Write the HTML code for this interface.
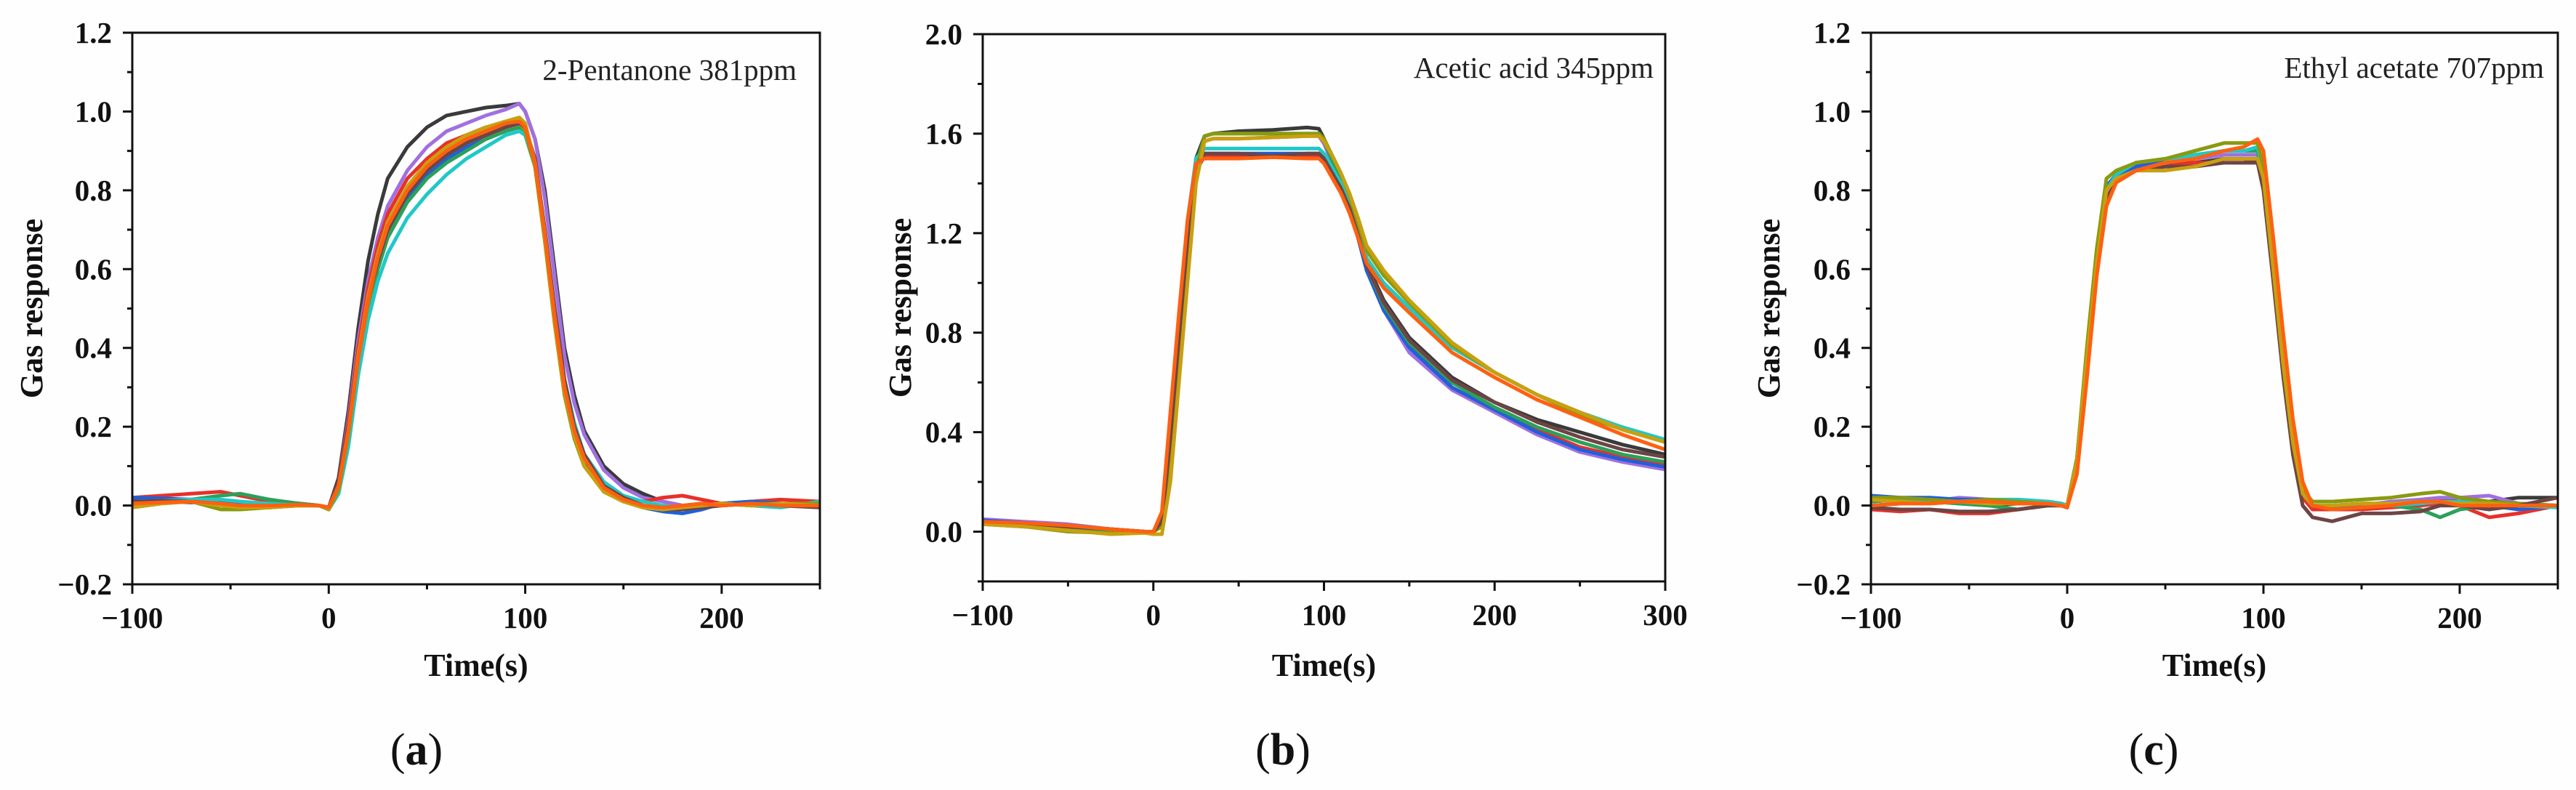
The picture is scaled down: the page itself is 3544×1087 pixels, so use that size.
<!DOCTYPE html>
<html><head><meta charset="utf-8"><style>
html,body{margin:0;padding:0;background:#fff;}
svg{display:block;}
text{font-family:"Liberation Serif",serif;}
</style></head><body>
<svg id="fig" width="3544" height="1087" viewBox="0 0 3544 1087" xmlns="http://www.w3.org/2000/svg">
<rect x="0" y="0" width="3544" height="1087" fill="#fefefe"/>
</svg>
<script>
const colors = ["#3a3a3a","#a070e0","#e8302a","#2060d8","#2ca05a","#20c8c8","#8a9a10","#6e4444","#c8a010","#ff6010"];
const seriesNames = ["s1","s2","s3","s4","s5","s6","s7","s8","s9","s10"];

// Panel (a) 2-Pentanone
const timeA = [-100,-85,-70,-55,-45,-30,-15,-5,0,5,10,15,20,25,30,40,50,60,70,80,90,97,100,105,110,115,120,125,130,140,150,160,170,180,190,200,215,230,250];
const a_s1 = [0.015,0.01,0.008,0.01,0.005,0,0.005,0,-0.005,0.07,0.24,0.45,0.62,0.74,0.83,0.91,0.96,0.99,1.0,1.01,1.015,1.02,1.0,0.93,0.8,0.6,0.4,0.28,0.19,0.1,0.055,0.03,0.01,0.0,0.0,0.005,0.0,0.005,0.0];
const a_s2 = [0.01,0.012,0.01,0.005,0.003,0.0,0.003,0,-0.005,0.06,0.22,0.42,0.57,0.68,0.76,0.85,0.91,0.95,0.97,0.99,1.005,1.02,1.0,0.93,0.78,0.58,0.38,0.26,0.18,0.09,0.045,0.02,0.01,0.0,0.0,0.005,0.005,0.0,0.005];
const a_s3 = [0.02,0.025,0.03,0.035,0.025,0.01,0.005,0,-0.005,0.06,0.21,0.4,0.55,0.66,0.74,0.83,0.88,0.92,0.94,0.96,0.97,0.97,0.95,0.86,0.68,0.48,0.3,0.19,0.12,0.05,0.02,0.01,0.02,0.025,0.015,0.005,0.01,0.015,0.01];
const a_s4 = [0.02,0.018,0.015,0.01,0.005,0.003,0.0,0.0,-0.005,0.05,0.2,0.38,0.51,0.61,0.69,0.78,0.84,0.88,0.91,0.93,0.95,0.96,0.95,0.87,0.69,0.49,0.3,0.19,0.12,0.045,0.015,-0.005,-0.015,-0.02,-0.01,0.005,0.01,0.005,0.0];
const a_s5 = [0.005,0.01,0.015,0.025,0.03,0.015,0.005,0,-0.008,0.04,0.18,0.36,0.5,0.6,0.68,0.77,0.83,0.87,0.9,0.93,0.95,0.96,0.94,0.86,0.68,0.47,0.29,0.18,0.11,0.04,0.01,0.0,-0.01,0.0,0.005,0.0,0.005,0.005,0.0];
const a_s6 = [0.01,0.012,0.015,0.015,0.01,0.005,0.0,0,-0.01,0.03,0.15,0.33,0.47,0.57,0.64,0.73,0.79,0.84,0.88,0.91,0.94,0.95,0.94,0.87,0.7,0.5,0.32,0.21,0.13,0.06,0.025,0.01,0.0,-0.005,0.0,0.005,0.0,-0.005,0.01];
const a_s7 = [0.0,0.01,0.01,-0.01,-0.01,-0.005,0.0,0,-0.01,0.04,0.18,0.37,0.51,0.62,0.7,0.79,0.85,0.89,0.92,0.94,0.96,0.97,0.95,0.86,0.67,0.46,0.28,0.17,0.1,0.035,0.01,-0.005,-0.01,-0.005,0.0,0.005,0.0,0.005,0.005];
const a_s8 = [0.01,0.012,0.01,0.005,0.0,-0.005,0.002,0.0,-0.005,0.06,0.2,0.38,0.52,0.62,0.7,0.79,0.85,0.89,0.92,0.94,0.96,0.97,0.96,0.88,0.7,0.5,0.32,0.2,0.13,0.05,0.02,0.0,-0.01,-0.01,-0.005,0.0,0.005,0.0,-0.005];
const a_s9 = [-0.005,0.005,0.01,0.0,-0.005,-0.005,0.0,0.0,-0.008,0.05,0.19,0.38,0.53,0.64,0.72,0.81,0.87,0.91,0.94,0.96,0.975,0.985,0.97,0.87,0.68,0.47,0.29,0.18,0.1,0.035,0.01,-0.005,-0.01,-0.005,0.0,0.005,0.0,0.005,0.0];
const a_s10 = [0.005,0.008,0.01,0.005,0.0,0.0,0.002,0.0,-0.005,0.05,0.19,0.37,0.52,0.63,0.71,0.8,0.86,0.9,0.93,0.95,0.97,0.975,0.96,0.87,0.69,0.48,0.3,0.19,0.12,0.045,0.015,0.0,-0.005,0.0,0.005,0.0,0.005,0.0,0.0];

// Panel (b) Acetic acid
const timeB = [-100,-75,-50,-25,-5,0,5,10,15,20,25,30,35,50,70,90,97,100,105,110,115,120,125,135,150,175,200,225,250,275,300];
const b_s1 = [0.04,0.03,0.02,0.01,0.0,0.0,0.05,0.4,0.8,1.2,1.5,1.59,1.6,1.61,1.615,1.625,1.62,1.58,1.5,1.42,1.32,1.2,1.08,0.93,0.78,0.62,0.52,0.45,0.4,0.35,0.31];
const b_s2 = [0.05,0.04,0.03,0.01,0.0,0.0,0.04,0.38,0.78,1.18,1.48,1.57,1.58,1.58,1.585,1.59,1.59,1.56,1.48,1.4,1.3,1.18,1.05,0.89,0.72,0.57,0.48,0.39,0.32,0.28,0.25];
const b_s3 = [0.04,0.035,0.02,0.01,0.0,0.0,0.04,0.38,0.78,1.15,1.45,1.51,1.51,1.51,1.515,1.51,1.51,1.49,1.44,1.38,1.3,1.18,1.06,0.9,0.75,0.58,0.49,0.41,0.34,0.3,0.27];
const b_s4 = [0.045,0.035,0.025,0.01,0.0,0.0,0.04,0.36,0.76,1.14,1.44,1.52,1.52,1.52,1.52,1.52,1.52,1.5,1.44,1.38,1.3,1.18,1.05,0.89,0.74,0.58,0.49,0.4,0.33,0.29,0.26];
const b_s5 = [0.03,0.025,0.015,0.005,0.0,0.0,0.03,0.34,0.74,1.15,1.47,1.59,1.6,1.6,1.6,1.6,1.6,1.57,1.49,1.41,1.31,1.19,1.07,0.91,0.76,0.6,0.5,0.42,0.36,0.31,0.28];
const b_s6 = [0.035,0.03,0.02,0.01,0.0,0.0,0.05,0.42,0.84,1.25,1.5,1.54,1.54,1.54,1.54,1.54,1.54,1.52,1.46,1.4,1.32,1.22,1.1,1.0,0.9,0.74,0.64,0.55,0.48,0.42,0.37];
const b_s7 = [0.03,0.02,0.0,-0.005,0.0,0.0,0.02,0.3,0.7,1.1,1.45,1.59,1.6,1.6,1.6,1.6,1.6,1.58,1.51,1.44,1.35,1.24,1.13,1.03,0.92,0.75,0.64,0.55,0.47,0.41,0.36];
const b_s8 = [0.04,0.03,0.02,0.01,0.0,0.0,0.04,0.38,0.78,1.17,1.47,1.52,1.52,1.52,1.51,1.52,1.52,1.5,1.44,1.38,1.3,1.19,1.07,0.92,0.77,0.61,0.52,0.44,0.38,0.33,0.3];
const b_s9 = [0.03,0.02,0.005,-0.01,-0.005,-0.01,-0.01,0.2,0.6,1.0,1.4,1.57,1.58,1.58,1.585,1.59,1.59,1.57,1.51,1.44,1.36,1.26,1.15,1.05,0.93,0.76,0.64,0.55,0.48,0.41,0.36];
const b_s10 = [0.04,0.035,0.025,0.01,0.0,0.0,0.08,0.48,0.88,1.25,1.48,1.5,1.5,1.5,1.505,1.5,1.5,1.48,1.42,1.36,1.28,1.18,1.08,0.98,0.88,0.72,0.62,0.53,0.46,0.39,0.33];

// Panel (c) Ethyl acetate
const timeC = [-100,-85,-70,-55,-40,-25,-10,-3,0,5,10,15,20,25,35,50,65,80,90,97,100,105,110,115,120,125,135,150,165,180,190,200,215,230,250];
const c_s1 = [0.0,0.005,0.01,0.005,0.0,0.005,0.01,0.005,0.0,0.12,0.38,0.62,0.8,0.83,0.86,0.87,0.87,0.88,0.88,0.87,0.82,0.6,0.36,0.16,0.03,0.0,0.0,0.005,0.005,0.01,0.015,0.01,0.01,0.02,0.02];
const c_s2 = [0.01,0.015,0.01,0.02,0.015,0.01,0.005,0.0,0.0,0.12,0.38,0.62,0.8,0.83,0.86,0.87,0.88,0.89,0.89,0.89,0.84,0.61,0.37,0.16,0.03,0.0,-0.005,0.0,0.01,0.015,0.02,0.02,0.025,0.005,0.0];
const c_s3 = [-0.01,-0.015,-0.01,-0.02,-0.02,-0.01,0.0,0.0,-0.005,0.1,0.36,0.6,0.78,0.82,0.85,0.86,0.87,0.87,0.87,0.87,0.82,0.58,0.35,0.15,0.02,-0.01,-0.01,-0.01,-0.005,0.0,0.005,0.0,-0.03,-0.02,0.0];
const c_s4 = [0.025,0.02,0.02,0.015,0.015,0.01,0.005,0.0,0.0,0.12,0.38,0.63,0.81,0.84,0.86,0.88,0.89,0.9,0.9,0.9,0.84,0.61,0.37,0.16,0.03,0.0,-0.005,0.0,0.005,0.01,0.01,0.005,0.0,-0.01,0.0];
const c_s5 = [0.01,0.015,0.01,0.005,0.0,-0.01,0.0,0.0,-0.005,0.11,0.37,0.61,0.8,0.84,0.87,0.88,0.89,0.9,0.9,0.9,0.84,0.6,0.36,0.16,0.03,0.0,-0.01,-0.005,0.0,-0.01,-0.03,-0.01,0.0,0.005,0.0];
const c_s6 = [0.02,0.015,0.01,0.01,0.015,0.015,0.01,0.005,0.0,0.12,0.38,0.62,0.8,0.84,0.87,0.88,0.89,0.9,0.9,0.91,0.85,0.62,0.38,0.17,0.03,0.0,0.0,0.005,0.0,0.005,0.01,0.01,0.005,0.0,-0.005];
const c_s7 = [0.02,0.02,0.015,0.01,0.015,0.01,0.005,0.0,0.0,0.12,0.4,0.65,0.83,0.85,0.87,0.88,0.9,0.92,0.92,0.92,0.86,0.62,0.38,0.17,0.04,0.01,0.01,0.015,0.02,0.03,0.035,0.02,0.01,0.005,0.0];
const c_s8 = [-0.005,-0.01,-0.01,-0.015,-0.015,-0.01,0.0,0.0,-0.005,0.1,0.36,0.6,0.78,0.82,0.85,0.86,0.86,0.87,0.87,0.87,0.8,0.57,0.33,0.13,0.0,-0.03,-0.04,-0.02,-0.02,-0.015,0.0,0.0,-0.01,0.0,0.02];
const c_s9 = [0.015,0.01,0.005,0.01,0.005,0.005,0.005,0.0,0.0,0.11,0.37,0.61,0.8,0.83,0.85,0.85,0.86,0.88,0.88,0.88,0.83,0.6,0.36,0.16,0.03,0.0,0.0,0.005,0.005,0.01,0.01,0.005,0.005,0.0,0.0];
const c_s10 = [0.0,0.005,0.005,0.01,0.01,0.005,0.005,0.0,-0.005,0.08,0.32,0.58,0.76,0.82,0.85,0.87,0.88,0.9,0.91,0.93,0.9,0.68,0.44,0.22,0.06,0.0,-0.01,-0.005,0.0,0.01,0.01,0.0,0.0,0.0,0.0];

const xTicksA = [-100,0,100,200];
const xTicksB = [-100,0,100,200,300];
const yTicksA = [-0.2,0.0,0.2,0.4,0.6,0.8,1.0,1.2];
const yTicksB = [0.0,0.4,0.8,1.2,1.6,2.0];

const NS = "http://www.w3.org/2000/svg";
const svg = document.getElementById("fig");
function el(tag, attrs, parent){
  const e = document.createElementNS(NS, tag);
  for (const k in attrs) e.setAttribute(k, attrs[k]);
  (parent||svg).appendChild(e);
  return e;
}
function fmtX(v){ return v<0 ? "\u2212"+Math.abs(v) : String(v); }
function fmtY(v){ return v<0 ? "\u2212"+Math.abs(v).toFixed(1) : v.toFixed(1); }

function drawPanel(p){
  const g = el("g", {});
  
  
  const sx = v => p.L + (v - p.xmin) / (p.xmax - p.xmin) * (p.R - p.L);
  const sy = v => p.B - (v - p.ymin) / (p.ymax - p.ymin) * (p.B - p.T);
  const clip = el("clipPath", {id:"clip"+p.id}, g);
  el("rect", {x:p.L, y:p.T, width:p.R-p.L, height:p.B-p.T}, clip);
  const lines = el("g", {"clip-path":"url(#clip"+p.id+")"}, g);
  
  
  p.series.forEach((vals, i) => {
    const d = vals.map((v, j) => (j ? "L" : "M") + sx(p.times[j]).toFixed(1) + "," + sy(v).toFixed(1)).join(" ");
    const path = el("path", {d:d, fill:"none", stroke:colors[i], "stroke-width":5, "stroke-linejoin":"round", "stroke-linecap":"round"}, lines);
    
    
  });
  const frame = el("rect", {x:p.L, y:p.T, width:p.R-p.L, height:p.B-p.T, fill:"none", stroke:"#111", "stroke-width":3}, g);
  
  
  p.xt.forEach(v => {
    const x = sx(v);
    const t = el("line", {x1:x, y1:p.B, x2:x, y2:p.B+13, stroke:"#111", "stroke-width":3}, g);
    
    
    const lb = el("text", {x:x, y:p.B+60, "text-anchor":"middle", "font-size":41, "font-weight":"bold", fill:"#111"}, g);
    lb.textContent = fmtX(v);
    
    
  });
  for (let v = p.xmin + 50; v <= p.xmax; v += 100) {
    const x = sx(v);
    const t = el("line", {x1:x, y1:p.B, x2:x, y2:p.B+7, stroke:"#111", "stroke-width":3}, g);
    
    
  }
  if (p.xmax % 100 !== 0) {
    const t = el("line", {x1:p.R, y1:p.B, x2:p.R, y2:p.B+7, stroke:"#111", "stroke-width":3}, g);
    
    
  }
  p.yt.forEach(v => {
    const y = sy(v);
    const t = el("line", {x1:p.L-13, y1:y, x2:p.L, y2:y, stroke:"#111", "stroke-width":3}, g);
    
    
    const lb = el("text", {x:p.L-28, y:y+14, "text-anchor":"end", "font-size":41, "font-weight":"bold", fill:"#111"}, g);
    lb.textContent = fmtY(v);
    
    
  });
  const step = p.yt[1] - p.yt[0];
  for (let k = 0; k < p.yt.length - 1; k++) {
    const y = sy(p.yt[k] + step / 2);
    const t = el("line", {x1:p.L-7, y1:y, x2:p.L, y2:y, stroke:"#111", "stroke-width":3}, g);
    
    
  }
  if (p.ymin < p.yt[0]) {
    const y = sy(p.yt[0] - step / 2);
    const t = el("line", {x1:p.L-7, y1:y, x2:p.L, y2:y, stroke:"#111", "stroke-width":3}, g);
    
    
  }
  const xt = el("text", {x:(p.L+p.R)/2, y:930, "text-anchor":"middle", "font-size":44, "font-weight":"bold", fill:"#111"}, g);
  xt.textContent = "Time(s)";
  
  
  const yc = (p.T + p.B) / 2;
  const yt = el("text", {x:p.yTitleX, y:yc, "text-anchor":"middle", "font-size":44, "font-weight":"bold", fill:"#111", transform:"rotate(-90 "+p.yTitleX+" "+yc+")"}, g);
  yt.textContent = "Gas response";
  
  
  const an = el("text", {x:p.annX, y:p.annY, "text-anchor":"end", "font-size":41, fill:"#222"}, g);
  an.textContent = p.ann;
  
  
  const pl = el("text", {x:p.labX, y:1052, "text-anchor":"middle", "font-size":62, fill:"#111"}, g);
  pl.innerHTML = '(<tspan font-weight="bold">' + p.id + '</tspan>)';
  
  
}

drawPanel({id:"a", L:182, R:1128, T:45, B:804, xmin:-100, xmax:250, ymin:-0.2, ymax:1.2,
  times:timeA, series:[a_s1,a_s2,a_s3,a_s4,a_s5,a_s6,a_s7,a_s8,a_s9,a_s10],
  xt:xTicksA, yt:yTicksA, yTitleX:58, ann:"2-Pentanone 381ppm", annX:1096, annY:110, labX:573});
drawPanel({id:"b", L:1352, R:2291, T:47, B:800, xmin:-100, xmax:300, ymin:-0.2, ymax:2.0,
  times:timeB, series:[b_s1,b_s2,b_s3,b_s4,b_s5,b_s6,b_s7,b_s8,b_s9,b_s10],
  xt:xTicksB, yt:yTicksB, yTitleX:1253, ann:"Acetic acid 345ppm", annX:2275, annY:107, labX:1765});
drawPanel({id:"c", L:2574, R:3519, T:45, B:804, xmin:-100, xmax:250, ymin:-0.2, ymax:1.2,
  times:timeC, series:[c_s1,c_s2,c_s3,c_s4,c_s5,c_s6,c_s7,c_s8,c_s9,c_s10],
  xt:xTicksA, yt:yTicksA, yTitleX:2448, ann:"Ethyl acetate 707ppm", annX:3500, annY:107, labX:2963});
</script>
</body></html>
